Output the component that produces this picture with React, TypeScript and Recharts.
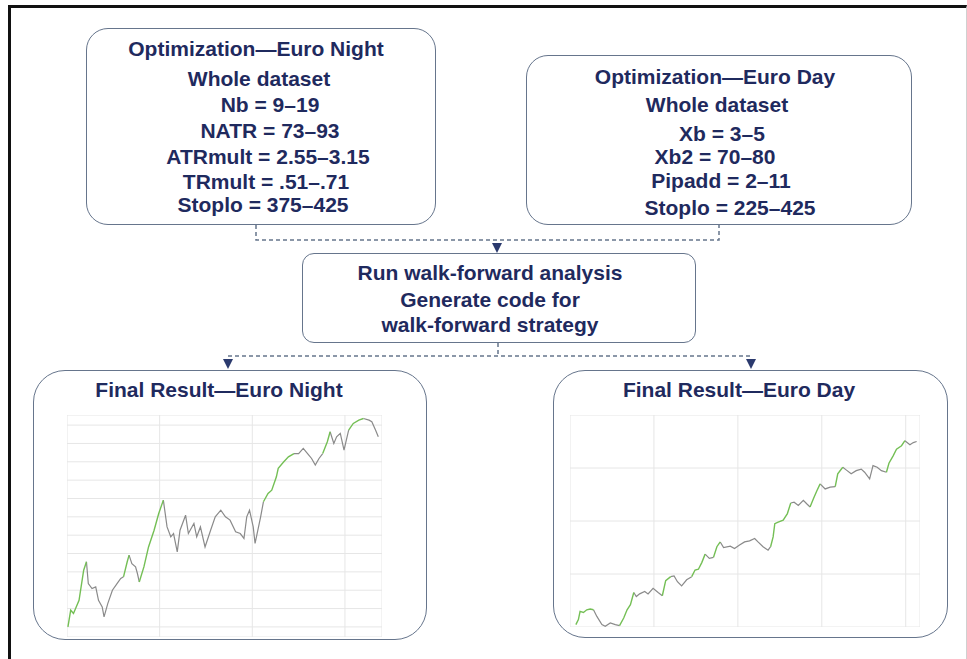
import React from "react";
import { LineChart, Line, XAxis, YAxis, CartesianGrid } from "recharts";

// Euro Night equity curve (x = bar index, y = equity units)
const nightT = [
  1, 4, 7, 13, 18, 21, 23, 27, 31, 34, 38, 40, 44, 49, 54, 58, 61, 65, 67, 70,
  74, 76, 78, 83, 88, 94, 99, 104, 108, 112, 115, 119, 122, 128, 131, 137, 140,
  144, 149, 155, 160, 166, 171, 176, 182, 187, 191, 194, 197, 201, 203, 209,
  212, 217, 221, 226, 228, 234, 239, 245, 250, 255, 261, 264, 268, 272, 276,
  281, 284, 288, 291, 295, 299, 304, 309, 315, 320, 326, 329, 333, 336,
];
const nightEquity = [
  0, 0.91, 0.73, 1.45, 3.09, 3.55, 2.36, 2.09, 2.18, 1.45, 1.09, 0.55, 1.27,
  2.0, 2.36, 2.64, 2.73, 3.55, 3.91, 3.45, 3.27, 2.91, 2.45, 3.27, 4.36, 5.27,
  6.18, 6.91, 5.45, 4.91, 5.09, 4.09, 5.27, 6.09, 5.09, 5.64, 4.91, 5.45, 4.36,
  5.27, 6.0, 6.36, 6.0, 5.82, 5.18, 5.09, 4.82, 6.0, 6.36, 5.45, 4.55, 6.0,
  6.82, 7.27, 7.45, 8.18, 8.64, 9.0, 9.27, 9.45, 9.45, 9.73, 9.36, 9.18, 8.82,
  9.18, 9.45, 10.09, 10.64, 10.0, 10.36, 10.55, 9.64, 10.73, 11.09, 11.27,
  11.36, 11.27, 11.18, 10.73, 10.36,
];
// stretches drawn in green (new equity highs)
const nightGreenRuns = [
  [1, 21],
  [61, 67],
  [78, 104],
  [212, 245],
  [276, 284],
  [304, 320],
];

// Euro Day equity curve
const dayT = [
  7, 10, 12, 16, 20, 24, 28, 32, 38, 42, 48, 54, 59, 64, 68, 72, 76, 79, 83, 89,
  93, 99, 105, 110, 114, 120, 124, 128, 133, 139, 145, 149, 153, 157, 161, 166,
  171, 175, 179, 183, 191, 196, 202, 208, 214, 220, 224, 230, 236, 239, 242,
  244, 248, 254, 259, 263, 267, 272, 278, 282, 286, 290, 294, 298, 304, 310,
  316, 319, 325, 329, 335, 341, 347, 351, 357, 361, 366, 371, 377, 380, 385,
  389, 395, 399, 405, 409, 413,
];
const dayEquity = [
  0.09, 0.28, 0.59, 0.55, 0.65, 0.68, 0.65, 0.4, 0.09, 0.03, 0.15, 0.09, 0.05,
  0.34, 0.65, 0.84, 1.3, 1.15, 1.25, 1.34, 1.25, 1.46, 1.3, 1.18, 1.75, 1.9,
  1.93, 1.71, 1.55, 1.78, 1.9, 2.15, 2.18, 2.43, 2.75, 2.59, 2.63, 3.03, 3.21,
  3.0, 3.05, 2.96, 3.09, 3.21, 3.25, 3.34, 3.21, 3.03, 2.9, 3.03, 3.4, 3.9,
  3.96, 4.03, 4.28, 4.68, 4.71, 4.59, 4.78, 4.65, 4.53, 4.84, 5.13, 5.4, 5.21,
  5.28, 5.3, 5.78, 6.03, 5.93, 5.78, 5.9, 5.96, 5.84, 5.59, 6.09, 6.03, 5.9,
  5.84, 6.18, 6.46, 6.71, 6.84, 7.03, 6.88, 6.96, 7.0,
];
const dayGreenRuns = [
  [7, 28],
  [59, 76],
  [110, 120],
  [145, 161],
  [171, 179],
  [239, 263],
  [286, 298],
  [316, 325],
  [377, 399],
];

const nightXTicks = [0, 100, 200, 300];
const nightYTicks = [0, 1, 2, 3, 4, 5, 6, 7, 8, 9, 10, 11];
const dayXTicks = [100, 200, 300, 400];
const dayYTicks = [2, 4, 6];

const NAVY = "#1f2a5e";
const BOX = "#66758c";
const GREEN = "#74bf55";
const GREY = "#8a8a8a";

function buildRows(t: number[], v: number[], runs: number[][]) {
  return t.map((x, i) => {
    const inside = runs.some(([a, b]) => x > a && x < b);
    const edge = runs.some(([a, b]) => x === a || x === b);
    return {
      t: x,
      green: inside || edge ? v[i] : null,
      grey: !inside ? v[i] : null,
    };
  });
}

interface EquityProps {
  rows: any[];
  width: number;
  height: number;
  xDomain: number[];
  yDomain: number[];
  xTicks: number[];
  yTicks: number[];
}

const EquityChart: React.FC<EquityProps> = ({
  rows,
  width,
  height,
  xDomain,
  yDomain,
  xTicks,
  yTicks,
}) => (
  <LineChart
    width={width}
    height={height}
    data={rows}
    margin={{ top: 0, right: 0, bottom: 0, left: 0 }}
  >
    <CartesianGrid stroke="#e6e6e6" strokeWidth={1} />
    <XAxis
      dataKey="t"
      type="number"
      domain={xDomain}
      ticks={xTicks}
      interval={0}
      hide
      allowDataOverflow
    />
    <YAxis
      type="number"
      domain={yDomain}
      ticks={yTicks}
      interval={0}
      hide
      allowDataOverflow
    />
    <Line
      dataKey="grey"
      stroke={GREY}
      strokeWidth={1.2}
      dot={false}
      connectNulls={false}
      isAnimationActive={false}
    />
    <Line
      dataKey="green"
      stroke={GREEN}
      strokeWidth={1.4}
      dot={false}
      connectNulls={false}
      isAnimationActive={false}
    />
  </LineChart>
);

const Text: React.FC<{ x: number; y: number; children: React.ReactNode }> = ({
  x,
  y,
  children,
}) => (
  <div
    style={{
      position: "absolute",
      left: x - 200,
      top: y - 12,
      width: 400,
      lineHeight: "24px",
      textAlign: "center",
      whiteSpace: "nowrap",
    }}
  >
    {children}
  </div>
);

const boxStyle = (
  left: number,
  top: number,
  right: number,
  bottom: number,
  radius: number
): React.CSSProperties => ({
  position: "absolute",
  left,
  top,
  width: right - left,
  height: bottom - top,
  border: `1.5px solid ${BOX}`,
  borderRadius: radius,
  boxSizing: "border-box",
});

export default function App() {
  const nightRows = buildRows(nightT, nightEquity, nightGreenRuns);
  const dayRows = buildRows(dayT, dayEquity, dayGreenRuns);

  return (
    <div
      style={{
        position: "absolute",
        left: 0,
        top: 0,
        width: 967,
        height: 659,
        overflow: "hidden",
        background: "#fff",
        fontFamily: "'Liberation Sans', Arial, sans-serif",
        fontWeight: "bold",
        fontSize: 21,
        color: NAVY,
      }}
    >
      {/* outer frame */}
      <div
        style={{
          position: "absolute",
          left: 8,
          top: 5,
          width: 955,
          height: 700,
          borderTop: "3px solid #111",
          borderLeft: "3px solid #111",
          borderRight: "1px solid #d0d0d0",
        }}
      />

      {/* boxes */}
      <div style={boxStyle(86, 28, 436, 225, 22)} />
      <div style={boxStyle(526, 55, 912, 225, 22)} />
      <div style={boxStyle(302, 253, 696, 343, 12)} />
      <div style={boxStyle(33, 370, 427, 640, 32)} />
      <div style={boxStyle(553, 370, 948, 638, 32)} />

      {/* connectors */}
      <svg
        width={967}
        height={659}
        style={{ position: "absolute", left: 0, top: 0 }}
      >
        <path
          d="M256 225 V240 H719 V225"
          fill="none"
          stroke={BOX}
          strokeWidth={1.5}
          strokeDasharray="4 3"
        />
        <path
          d="M498 343 V356 M228 356 H751"
          fill="none"
          stroke={BOX}
          strokeWidth={1.5}
          strokeDasharray="4 3"
        />
        <path d="M492 243 L502 243 L497 253 Z" fill="#2b3a6e" />
        <path d="M223 359 L233 359 L228 369 Z" fill="#2b3a6e" />
        <path d="M746 359 L756 359 L751 369 Z" fill="#2b3a6e" />
      </svg>

      {/* text */}
      <Text x={256} y={49}>Optimization—Euro Night</Text>
      <Text x={259} y={79}>Whole dataset</Text>
      <Text x={270} y={105}>Nb = 9–19</Text>
      <Text x={270} y={131}>NATR = 73–93</Text>
      <Text x={268} y={157}>ATRmult = 2.55–3.15</Text>
      <Text x={266} y={182}>TRmult = .51–.71</Text>
      <Text x={263} y={205}>Stoplo = 375–425</Text>

      <Text x={715} y={77}>Optimization—Euro Day</Text>
      <Text x={717} y={105}>Whole dataset</Text>
      <Text x={722} y={134}>Xb = 3–5</Text>
      <Text x={715} y={157}>Xb2 = 70–80</Text>
      <Text x={721} y={181}>Pipadd = 2–11</Text>
      <Text x={730} y={208}>Stoplo = 225–425</Text>

      <Text x={490} y={273}>Run walk-forward analysis</Text>
      <Text x={490} y={300}>Generate code for</Text>
      <Text x={490} y={325}>walk-forward strategy</Text>

      <Text x={219} y={390}>Final Result—Euro Night</Text>
      <Text x={739} y={390}>Final Result—Euro Day</Text>

      {/* equity curves */}
      <div style={{ position: "absolute", left: 67, top: 415 }}>
        <EquityChart
          rows={nightRows}
          width={315}
          height={222}
          xDomain={[0, 340]}
          yDomain={[-0.55, 11.55]}
          xTicks={nightXTicks}
          yTicks={nightYTicks}
        />
      </div>
      <div style={{ position: "absolute", left: 570, top: 415 }}>
        <EquityChart
          rows={dayRows}
          width={350}
          height={212}
          xDomain={[0, 417]}
          yDomain={[0, 8]}
          xTicks={dayXTicks}
          yTicks={dayYTicks}
        />
      </div>
    </div>
  );
}
